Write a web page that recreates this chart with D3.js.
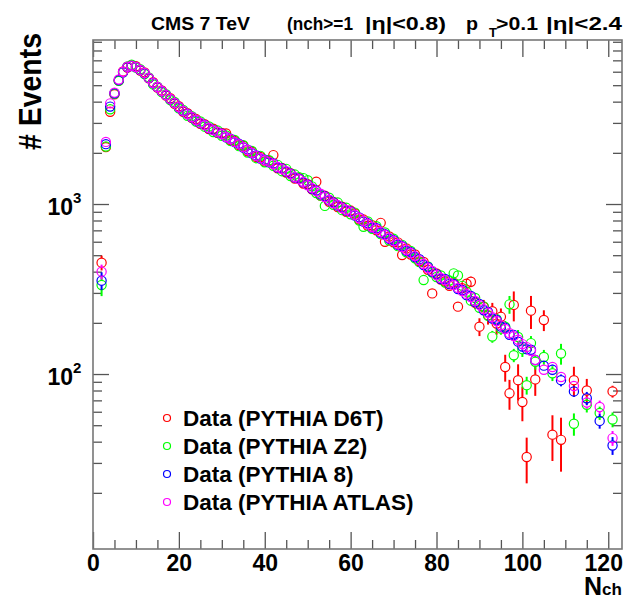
<!DOCTYPE html>
<html>
<head>
<meta charset="utf-8">
<script src="https://cdn.jsdelivr.net/npm/d3@7"></script>
<style>
  html, body { margin: 0; padding: 0; background: #fff; }
  svg text { font-family: "Liberation Sans", Arial, Helvetica, sans-serif; font-weight: bold; fill: #000; }
</style>
</head>
<body>
<svg id="chart" width="625" height="596"></svg>
<script>
// Charged-particle multiplicity bins (N_ch)
const nch = [
  2, 3, 4, 5, 6, 7, 8, 9, 10, 11, 12, 13, 14, 15, 16, 17, 18, 19, 20, 21,
  22, 23, 24, 25, 26, 27, 28, 29, 30, 31, 32, 33, 34, 35, 36, 37, 38, 39, 40, 41,
  42, 43, 44, 45, 46, 47, 48, 49, 50, 51, 52, 53, 54, 55, 56, 57, 58, 59, 60, 61,
  62, 63, 64, 65, 66, 67, 68, 69, 70, 71, 72, 73, 74, 75, 76, 77, 78, 79, 80, 81,
  82, 83, 84, 85, 86, 87, 88, 89, 90, 91, 92, 93, 94, 95, 96, 97, 98, 99, 100, 101,
  102, 103, 105, 107, 109, 112, 115, 118, 121
];

// Unfolded event counts, one array per PYTHIA tune used for the correction
const valD6T = [
  452, 2160, 3490, 4420, 5330, 6020, 6350, 6520, 6460, 6100, 5950, 5480, 5200, 4840, 4660, 4340, 4190, 3890, 3760, 3490,
  3420, 3210, 3160, 2960, 2950, 2760, 2770, 2620, 2620, 2600, 2380, 2350, 2220, 2200, 2040, 2030, 1890, 1890, 1780, 1790,
  1940, 1620, 1630, 1530, 1520, 1410, 1420, 1320, 1310, 1220, 1352, 1120, 1120, 1030, 1030, 960, 965, 900, 915, 880,
  810, 810, 745, 750, 700, 775, 600, 645, 595, 595, 501, 548, 505, 505, 460, 456, 410, 298, 390, 360,
  350, 330, 345, 249, 320, 340, 349, 262, 190, 248, 222, 234, 198, 217, 110, 77, 255, 92, 68.5, 32.5,
  236, 93, 208, 44, 41, 92, 80, null, 79
];
const valZ2 = [
  334, 2180, 3610, 4450, 5300, 5950, 6450, 6600, 6350, 6200, 5820, 5560, 5050, 4900, 4550, 4420, 4080, 3980, 3650, 3580,
  3300, 3290, 3050, 3060, 2850, 2860, 2650, 2710, 2520, 2530, 2350, 2380, 2190, 2220, 2010, 2050, 1860, 1920, 1760, 1810,
  1680, 1700, 1560, 1610, 1460, 1490, 1440, 1420, 1380, 1270, 1160, 1120, 975, 1090, 990, 1020, 920, 950, 870, 890,
  800, 735, 790, 715, 740, 665, 680, 610, 625, 565, 575, 520, 530, 480, 455, 357, 430, 395, 372, 380,
  345, 355, 391, 380, 330, 305, 270, 280, 245, 250, 220, 166, 210, 185, 190, 257, 129, 165, 140, 86,
  152, 118, 126, 101, 132, 51, 66, 59, 54
];
const valP8 = [
  354, 2250, 3740, 4480, 5350, 5960, 6380, 6480, 6390, 6130, 5880, 5500, 5150, 4870, 4610, 4370, 4140, 3920, 3710, 3520,
  3390, 3240, 3110, 2990, 2920, 2790, 2730, 2640, 2590, 2470, 2420, 2310, 2260, 2150, 2090, 1990, 1930, 1850, 1820, 1760,
  1730, 1640, 1620, 1550, 1510, 1430, 1410, 1340, 1300, 1230, 1200, 1140, 1110, 1050, 1020, 980, 955, 915, 905, 855,
  835, 788, 770, 726, 720, 678, 664, 625, 612, 576, 565, 530, 521, 488, 474, 438, 426, 399, 387, 362,
  362, 338, 339, 316, 312, 291, 288, 265, 258, 237, 232, 212, 208, 190, 187, 170, 170, 155, 145, 140,
  139, 121, 112, 106, 92, 79, 72, 53, 38
];
const valATLAS = [
  400, 2320, 3910, 4520, 5400, 6000, 6420, 6500, 6400, 6150, 5900, 5520, 5160, 4880, 4620, 4380, 4150, 3930, 3720, 3530,
  3380, 3250, 3120, 3000, 2910, 2800, 2720, 2650, 2580, 2480, 2410, 2320, 2250, 2160, 2080, 2000, 1920, 1860, 1810, 1770,
  1720, 1650, 1610, 1560, 1500, 1440, 1400, 1350, 1290, 1240, 1190, 1150, 1100, 1060, 1010, 985, 947, 922, 897, 862,
  827, 794, 763, 732, 713, 684, 657, 631, 606, 582, 559, 536, 515, 494, 468, 444, 420, 404, 382, 367,
  357, 343, 334, 321, 308, 296, 284, 269, 255, 241, 229, 216, 205, 194, 184, 174, 167, 159, 150, 144,
  137, 121, 106, 110, 96, 85, 68, 64, 42
];

// Relative uncertainties in percent, aligned with nch
const errD6T = [
  10, 3, 1, 1, 1, 1, 1, 1, 1, 1, 1, 1, 1, 1, 1, 1, 1, 1, 1, 1,
  1, 1, 1, 1, 1, 1, 1, 1, 1, 1, 1, 1, 1, 1, 1, 1, 1, 1, 1, 1,
  1, 1, 1, 1, 1, 1, 1, 1, 1, 1, 1, 1, 1, 1, 1, 1, 1, 1, 1, 1,
  1, 1, 1, 1, 1, 1, 1, 1, 1, 1, 1, 1, 1, 1, 1, 1, 1, 1, 4, 4,
  4, 4, 4, 6, 5, 6, 7, 8, 12, 10, 12, 12, 14, 12, 18, 20, 20, 24, 23, 30,
  22, 20, 14, 30, 35, 20, 17, 0, 8
];
const errZ2 = [
  14, 3, 1, 1, 1, 1, 1, 1, 1, 1, 1, 1, 1, 1, 1, 1, 1, 1, 1, 1,
  1, 1, 1, 1, 1, 1, 1, 1, 1, 1, 1, 1, 1, 1, 1, 1, 1, 1, 1, 1,
  1, 1, 1, 1, 1, 1, 1, 1, 1, 1, 1, 1, 1, 1, 1, 1, 1, 1, 1, 1,
  1, 1, 1, 1, 1, 1, 1, 1, 1, 1, 1, 1, 1, 1, 1, 1, 1, 1, 3, 3,
  3, 3, 3, 3, 3, 3, 4, 4, 6, 6, 7, 8, 7, 8, 8, 12, 9, 10, 10, 12,
  10, 10, 10, 10, 14, 15, 10, 9, 10
];
const errP8 = [
  12, 3, 1, 1, 1, 1, 1, 1, 1, 1, 1, 1, 1, 1, 1, 1, 1, 1, 1, 1,
  1, 1, 1, 1, 1, 1, 1, 1, 1, 1, 1, 1, 1, 1, 1, 1, 1, 1, 1, 1,
  1, 1, 1, 1, 1, 1, 1, 1, 1, 1, 1, 1, 1, 1, 1, 1, 1, 1, 1, 1,
  1, 1, 1, 1, 1, 1, 1, 1, 1, 1, 1, 1, 1, 1, 1, 1, 1, 1, 2, 2,
  2, 2, 2, 2, 2, 2, 3, 3, 4, 4, 4, 5, 5, 5, 5, 5, 6, 6, 6, 6,
  6, 6, 6, 7, 8, 7, 9, 10, 12
];
const errATLAS = [
  10, 2, 1, 1, 1, 1, 1, 1, 1, 1, 1, 1, 1, 1, 1, 1, 1, 1, 1, 1,
  1, 1, 1, 1, 1, 1, 1, 1, 1, 1, 1, 1, 1, 1, 1, 1, 1, 1, 1, 1,
  1, 1, 1, 1, 1, 1, 1, 1, 1, 1, 1, 1, 1, 1, 1, 1, 1, 1, 1, 1,
  1, 1, 1, 1, 1, 1, 1, 1, 1, 1, 1, 1, 1, 1, 1, 1, 1, 1, 2, 2,
  2, 2, 2, 2, 2, 2, 2, 3, 4, 4, 4, 4, 4, 4, 4, 5, 5, 5, 5, 5,
  5, 5, 5, 6, 6, 7, 8, 9, 10
];

const seriesNames = ["Data (PYTHIA D6T)", "Data (PYTHIA Z2)", "Data (PYTHIA 8)", "Data (PYTHIA ATLAS)"];
const seriesColors = ["#ff0000", "#00ff00", "#0000ff", "#ff00ff"];
const seriesValues = [valD6T, valZ2, valP8, valATLAS];
const seriesErrors = [errD6T, errZ2, errP8, errATLAS];

// Axis ticks
const xMajorTicks = [0, 20, 40, 60, 80, 100, 120];
const xMinorTicks = [5, 10, 15, 25, 30, 35, 45, 50, 55, 65, 70, 75, 85, 90, 95, 105, 110, 115];
const yMajorTicks = [100, 1000];
const yMinorTicks = [20, 30, 40, 50, 60, 70, 80, 90, 200, 300, 400, 500, 600, 700, 800, 900,
                     2000, 3000, 4000, 5000, 6000, 7000, 8000, 9000];

const frame = { left: 93, right: 622, top: 40, bottom: 549 };
const svg = d3.select("#chart");

const x = d3.scaleLinear().domain([0, 123.2]).range([frame.left, frame.right]);
const y = d3.scaleLog().domain([9.35, 9220]).range([frame.bottom, frame.top]);

const axisColor = "#555";

function styleAxis(g) {
  g.select(".domain").remove();
  g.selectAll(".tick line").attr("stroke", axisColor).attr("stroke-width", 1.3);
}

// Bottom axis: major ticks with labels, then minor ticks
svg.append("g")
  .attr("transform", `translate(0,${frame.bottom})`)
  .call(d3.axisBottom(x).tickValues(xMajorTicks).tickSize(-17).tickPadding(6).tickFormat(d3.format("d")))
  .call(styleAxis)
  .call(g => g.selectAll("text")
    .attr("font-size", 23).attr("font-family", null).attr("fill", "#000")
    .attr("dx", d => d === 120 ? -5 : 0));
svg.append("g")
  .attr("transform", `translate(0,${frame.bottom})`)
  .call(d3.axisBottom(x).tickValues(xMinorTicks).tickSize(-9).tickFormat(""))
  .call(styleAxis);

// Top axis ticks (no labels)
svg.append("g")
  .attr("transform", `translate(0,${frame.top})`)
  .call(d3.axisTop(x).tickValues(xMajorTicks).tickSize(-17).tickFormat(""))
  .call(styleAxis);
svg.append("g")
  .attr("transform", `translate(0,${frame.top})`)
  .call(d3.axisTop(x).tickValues(xMinorTicks).tickSize(-9).tickFormat(""))
  .call(styleAxis);

// Left axis ticks
svg.append("g")
  .attr("transform", `translate(${frame.left},0)`)
  .call(d3.axisLeft(y).tickValues(yMajorTicks).tickSize(-16).tickFormat(""))
  .call(styleAxis);
svg.append("g")
  .attr("transform", `translate(${frame.left},0)`)
  .call(d3.axisLeft(y).tickValues(yMinorTicks).tickSize(-9).tickFormat(""))
  .call(styleAxis);

// Right axis ticks
svg.append("g")
  .attr("transform", `translate(${frame.right},0)`)
  .call(d3.axisRight(y).tickValues(yMajorTicks).tickSize(-16).tickFormat(""))
  .call(styleAxis);
svg.append("g")
  .attr("transform", `translate(${frame.right},0)`)
  .call(d3.axisRight(y).tickValues(yMinorTicks).tickSize(-9).tickFormat(""))
  .call(styleAxis);

// Frame
svg.append("rect")
  .attr("x", frame.left).attr("y", frame.top)
  .attr("width", frame.right - frame.left).attr("height", frame.bottom - frame.top)
  .attr("fill", "none").attr("stroke", "#777").attr("stroke-width", 1.6);

// Y labels as powers of ten
const yLabels = svg.append("g");
yMajorTicks.forEach(v => {
  yLabels.append("text")
    .attr("x", 73).attr("y", y(v) + 11)
    .attr("text-anchor", "end").attr("font-size", 23)
    .text("10");
  yLabels.append("text")
    .attr("x", 73).attr("y", y(v) - 1)
    .attr("font-size", 15)
    .text(String(Math.round(Math.log10(v))));
});

// Data: error bars then open circles, one layer per series
const R = 4.6;
seriesValues.forEach((vals, s) => {
  const color = seriesColors[s];
  const errs = seriesErrors[s];
  const pts = nch.map((n, i) => ({ n, v: vals[i], e: errs[i] / 100 })).filter(d => d.v != null);
  const g = svg.append("g");
  pts.forEach(d => {
    const cx = x(d.n), cy = y(d.v);
    const yHi = y(d.v * (1 + d.e)), yLo = y(d.v * (1 - d.e));
    if (cy - yHi > R) {
      g.append("line").attr("x1", cx).attr("x2", cx).attr("y1", yHi).attr("y2", cy - R)
        .attr("stroke", color).attr("stroke-width", 2);
    }
    if (yLo - cy > R) {
      g.append("line").attr("x1", cx).attr("x2", cx).attr("y1", cy + R).attr("y2", yLo)
        .attr("stroke", color).attr("stroke-width", 2);
    }
  });
  g.selectAll("circle").data(pts).join("circle")
    .attr("cx", d => x(d.n)).attr("cy", d => y(d.v)).attr("r", R)
    .attr("fill", "none").attr("stroke", color).attr("stroke-width", 1.2);
});

// Legend
const legend = svg.append("g");
seriesNames.forEach((name, i) => {
  const ly = 418 + i * 28;
  legend.append("circle").attr("cx", 167).attr("cy", ly).attr("r", 3.5)
    .attr("fill", "none").attr("stroke", seriesColors[i]).attr("stroke-width", 1.2);
  legend.append("text").attr("x", 183).attr("y", ly + 8).attr("font-size", 22.5).text(name);
});

// Header, each piece fitted to its slot
const head = svg.append("g").attr("font-size", 19);
const headPieces = [
  { t: "CMS 7 TeV", x: 151, w: 99, y: 30 },
  { t: "(nch>=1", x: 287, w: 66, y: 30 },
  { t: "|η|<0.8)", x: 365, w: 81, y: 30 },
  { t: "p", x: 466, w: 12, y: 30 },
  { t: ">0.1", x: 496, w: 42, y: 30 },
  { t: "|η|<2.4", x: 546, w: 76, y: 30 }
];
headPieces.forEach(p => {
  head.append("text").attr("x", p.x).attr("y", p.y)
    .attr("textLength", p.w).attr("lengthAdjust", "spacingAndGlyphs").text(p.t);
});
head.append("text").attr("x", 489).attr("y", 37).attr("font-size", 13).text("T");

// Axis titles
svg.append("text")
  .attr("transform", "translate(41,33) rotate(-90)")
  .attr("text-anchor", "end").attr("font-size", 31)
  .attr("textLength", 117).attr("lengthAdjust", "spacingAndGlyphs")
  .text("# Events");
svg.append("text").attr("x", 584).attr("y", 595).attr("font-size", 25).text("N");
svg.append("text").attr("x", 602).attr("y", 595).attr("font-size", 17).text("ch");
</script>
</body>
</html>
